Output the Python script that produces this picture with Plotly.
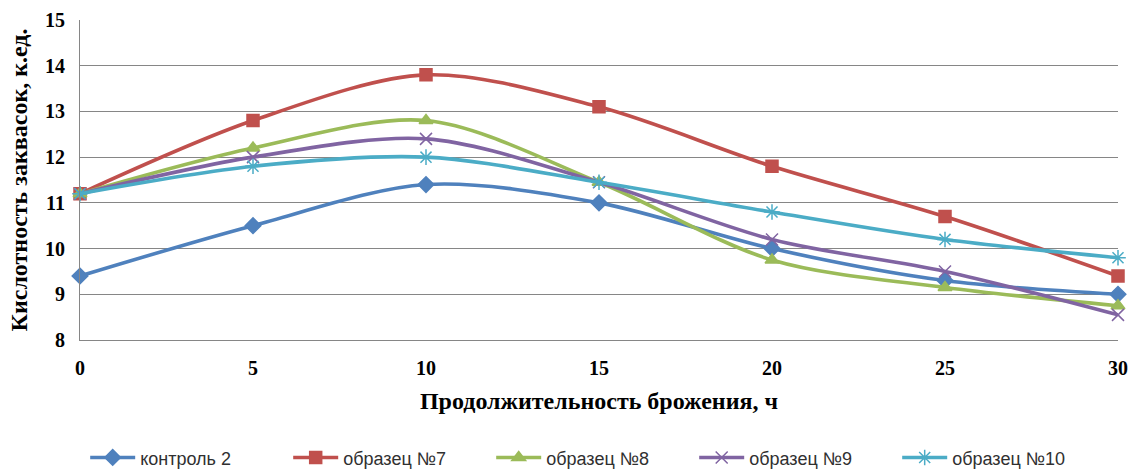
import plotly.graph_objects as go

# Fermentation time, hours
hours = [0, 5, 10, 15, 20, 25, 30]

# Starter acidity, units
control_2 = [9.4, 10.5, 11.4, 11.0, 10.0, 9.3, 9.0]
sample_7 = [11.2, 12.8, 13.8, 13.1, 11.8, 10.7, 9.4]
sample_8 = [11.2, 12.2, 12.8, 11.45, 9.75, 9.15, 8.75]
sample_9 = [11.2, 12.0, 12.4, 11.45, 10.2, 9.5, 8.55]
sample_10 = [11.2, 11.8, 12.0, 11.45, 10.8, 10.2, 9.8]

series = [
    ("контроль 2", control_2, "#4F81BD", "diamond", 12),
    ("образец №7", sample_7, "#C0504D", "square", 12),
    ("образец №8", sample_8, "#9BBB59", "triangle-up", 12),
    ("образец №9", sample_9, "#8064A2", "x-thin-open", 12),
    ("образец №10", sample_10, "#4BACC6", "asterisk-open", 13),
]

fig = go.Figure()
for name, vals, color, symbol, size in series:
    fig.add_trace(go.Scatter(
        x=hours, y=vals, name=name, mode="lines+markers",
        line=dict(color=color, width=3.6, shape="spline", smoothing=0.9),
        marker=dict(symbol=symbol, size=size, color=color,
                    line=dict(color=color, width=1.5)),
        cliponaxis=False,
    ))

serif = "Liberation Serif, Times New Roman, serif"

fig.update_layout(
    width=1128, height=470,
    margin=dict(l=80, r=10, t=20, b=130, autoexpand=False),
    paper_bgcolor="white", plot_bgcolor="white",
    showlegend=True,
    legend=dict(
        orientation="h", x=0.005, xanchor="left",
        yref="container", y=0.026, yanchor="middle",
        font=dict(family="Liberation Sans, Arial, sans-serif", size=18, color="#303030"),
        entrywidth=143, entrywidthmode="pixels", itemwidth=45,
    ),
    xaxis=dict(
        range=[0, 30], tickvals=hours, showgrid=False, zeroline=False,
        showline=True, linecolor="#868686", linewidth=1, automargin=False,
        ticks="", ticklabelstandoff=10,
        tickfont=dict(family=serif, size=20, color="#000000", weight="bold"),
        title=dict(text="Продолжительность брожения, ч", standoff=14,
                   font=dict(family=serif, size=24, color="#000000", weight="bold")),
    ),
    yaxis=dict(
        range=[8, 15], dtick=1, showgrid=True, gridcolor="#868686", gridwidth=1,
        zeroline=False, showline=True, linecolor="#868686", linewidth=1,
        automargin=False,
        ticks="", ticklabelstandoff=10,
        tickfont=dict(family=serif, size=20, color="#000000", weight="bold"),
        title=dict(text="Кислотность заквасок, к.ед.", standoff=10,
                   font=dict(family=serif, size=24, color="#000000", weight="bold")),
    ),
)

fig.write_html("out.html")
